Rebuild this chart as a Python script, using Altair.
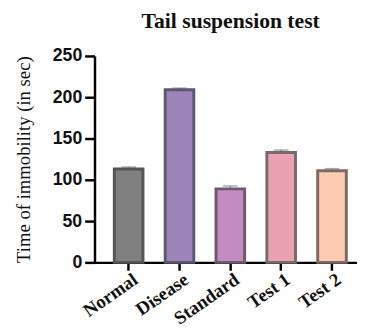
import altair as alt
import pandas as pd

groups = ["Normal", "Disease", "Standard", "Test 1", "Test 2"]
means = [113, 209, 89, 133, 111]
errors = [2.5, 2, 3.5, 3, 2.5]
fills = ["#808080", "#9b85b8", "#c28cc3", "#eaa1b1", "#fccbb1"]
strokes = ["#555555", "#5f5672", "#6d5a6a", "#7a6a6c", "#7d6a64"]
y_ticks = [0, 50, 100, 150, 200, 250]

df = pd.DataFrame({"group": groups, "mean": means, "err": errors})
df["upper"] = df["mean"] + df["err"]

x_scale = alt.Scale(domain=groups, paddingInner=0.437, paddingOuter=0.3, align=0.65)
y_scale = alt.Scale(domain=[0, 250], nice=False)

x_enc = alt.X("group:N", sort=groups, scale=x_scale, title=None,
              axis=alt.Axis(labelAngle=-35, labelFont="Liberation Serif", labelFontWeight="bold",
                            labelFontSize=19, labelColor="#111", labelPadding=7, labelOffset=7,
                            domainColor="black", domainWidth=2.5, tickColor="black",
                            tickWidth=2.5, tickSize=8))

bars = alt.Chart(df).mark_bar(strokeWidth=3).encode(
    x=x_enc,
    y=alt.Y("mean:Q", scale=y_scale, title="Time of immobility (in sec)",
            axis=alt.Axis(values=y_ticks, grid=False, labelFont="Liberation Sans",
                          labelFontWeight="bold", labelFontSize=18, labelColor="#111",
                          labelPadding=3, tickSize=10, tickWidth=2.5, tickColor="black",
                          domainColor="black", domainWidth=2.5,
                          titleFont="Liberation Serif", titleFontWeight="normal",
                          titleFontSize=19, titleColor="#111", titlePadding=19)),
    fill=alt.Fill("group:N", scale=alt.Scale(domain=groups, range=fills), legend=None),
    stroke=alt.Stroke("group:N", scale=alt.Scale(domain=groups, range=strokes), legend=None),
)

err_rule = alt.Chart(df).mark_rule(color="#888888", strokeWidth=1.5).encode(
    x=alt.X("group:N", sort=groups, scale=x_scale),
    y=alt.Y("mean:Q", scale=y_scale),
    y2="upper:Q",
)
err_cap = alt.Chart(df).mark_tick(color="#888888", thickness=1.5, size=15).encode(
    x=alt.X("group:N", sort=groups, scale=x_scale),
    y=alt.Y("upper:Q", scale=y_scale),
)

chart = alt.layer(err_rule, err_cap, bars).properties(
    width=267, height=210,
    title=alt.TitleParams("Tail suspension test", font="Liberation Serif", fontWeight="bold",
                          fontSize=22, color="#111", offset=14, dx=5),
    autosize=alt.AutoSizeParams(type="none"),
    padding={"left": 88, "top": 46, "right": 0, "bottom": 66},
).configure_view(stroke=None)

chart.save("out.html", embed_options={"renderer": "svg", "actions": False})
